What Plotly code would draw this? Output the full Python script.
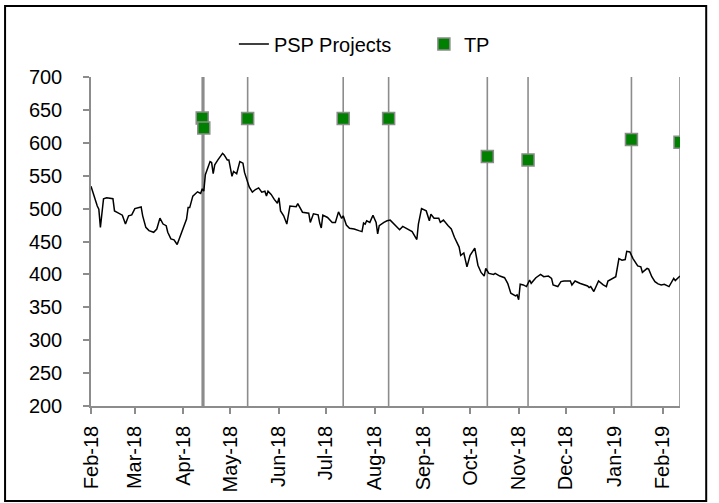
import pandas as pd
import plotly.graph_objects as go

START = pd.Timestamp("2018-02-01")

# PSP Projects: day offset from 1 Feb 2018 and closing price
psp_days = [0, 2, 4, 5, 6, 8, 10, 14, 15, 17, 20, 22, 24, 26, 28, 32, 33, 35, 37, 40,
            42, 44, 46, 48, 49, 51, 53, 55, 57, 59, 61, 62, 63, 65, 66, 68, 70, 71, 72, 73,
            76, 77, 78, 79, 81, 84, 85, 87, 88, 90, 91, 93, 95, 97, 98, 100, 101, 103, 105, 107,
            109, 111, 112, 113, 115, 117, 119, 120, 121, 123, 125, 127, 129, 131, 132, 134, 135, 139, 140, 142,
            145, 146, 147, 148, 151, 154, 156, 158, 160, 161, 163, 165, 168, 171, 173, 174, 175, 176, 178, 180,
            182, 183, 184, 187, 189, 191, 193, 195, 197,
            199, 201, 205, 208, 209, 211, 214, 216, 217, 219, 222, 223, 225, 228, 230, 232, 235, 236, 238, 240,
            242, 245, 247, 249, 251, 252, 254, 257, 258, 261, 264, 266, 268, 271, 272, 273, 274, 276, 278, 280,
            281, 284, 287, 289, 292, 294, 295, 298, 300, 302, 306, 307, 309, 312, 315, 317, 318, 319, 321, 324,
            327, 329, 330, 333, 335, 337, 339, 341, 342, 344, 346, 349, 351, 352, 355, 356, 358, 360, 362, 364,
            366, 369, 372, 373, 375, 376]
psp_values = [534, 518, 504, 499, 471.5, 515, 516.5, 515, 496.5, 494, 490, 476.5, 489, 490.5, 500, 502.5, 489, 471.5, 466.5, 464,
              469, 485.5, 476.5, 474, 464, 454, 452.5, 445.5, 459, 471.5, 484, 501.5, 501.5, 519, 521.5, 525.5, 523, 530, 526.5, 551.5,
              571.5, 570, 553, 566.5, 574, 584, 581.5, 574, 574, 549, 556.5, 553, 571.5, 569, 555, 539, 533, 525, 529, 531.5,
              525, 526.5, 519, 526.5, 521.5, 514, 508, 516.5, 496.5, 489, 476.5, 504, 503, 503, 507.5, 497, 494.5, 493, 479, 492,
              490.5, 478, 470.5, 490, 486.5, 479, 479, 495, 485, 489, 475, 470, 469, 466.5, 465, 478, 476.5, 481.5, 479, 490,
              479, 461.5, 474, 479, 481.5, 482.5, 478, 472.5, 468,
              473, 470, 465, 453, 476.5, 500, 496.5, 481.5, 491.5, 485.5, 485.5, 479, 482.5, 474, 469, 456.5, 441.5, 429, 432.5, 411.5,
              429, 440, 414, 403, 397.5, 409, 401.5, 400, 401.5, 397.5, 395, 386.5, 371.5, 367.5, 369, 361.5, 385, 384, 381.5, 391.5,
              386.5, 395, 400, 396.5, 397.5, 394, 384, 381.5, 389, 390, 390, 384, 390, 386.5, 384, 382.5, 380, 381.5, 374, 390,
              384, 381.5, 390, 394, 396.5, 424, 421.5, 422.5, 435, 434, 424, 413, 411.5, 403, 409, 408, 396.5, 389, 385.5, 384,
              385, 381.5, 394, 390.5, 395, 397.5]

# TP (target price) events
tp_dates = ["2018-04-13", "2018-04-14", "2018-05-12", "2018-07-12", "2018-08-10",
            "2018-10-12", "2018-11-07", "2019-01-12", "2019-02-12"]
tp_values = [637.7, 622.5, 637, 637, 637, 579, 574, 605, 601]

y_ticks = [200, 250, 300, 350, 400, 450, 500, 550, 600, 650, 700]

psp_dates = [START + pd.Timedelta(days=d) for d in psp_days]

FONT = "Liberation Sans"
GRAY = "#8c8c8c"

fig = go.Figure()
fig.add_trace(go.Scatter(x=psp_dates, y=psp_values, mode="lines", name="PSP Projects",
                         line=dict(color="black", width=1.5)))
fig.add_trace(go.Scatter(x=tp_dates, y=tp_values, mode="markers", name="TP",
                         marker=dict(symbol="square", size=12, color="#008000",
                                     line=dict(color=GRAY, width=1.5))))

shapes = []
for d in tp_dates:
    shapes.append(dict(type="line", xref="x", yref="y", x0=d, x1=d, y0=200, y1=700,
                       line=dict(color=GRAY, width=1.6), layer="below"))
# outer chart border (paper coords relative to plot area 91..680.4 x, 406..77 y)
shapes.append(dict(type="rect", xref="paper", yref="paper",
                   x0=-0.1459, x1=1.0445, y0=-0.2887, y1=1.2158,
                   line=dict(color="black", width=2)))

fig.update_layout(
    width=719, height=503,
    margin=dict(l=91, r=38.6, t=77, b=97),
    paper_bgcolor="white", plot_bgcolor="white",
    font=dict(family=FONT, size=20, color="black"),
    showlegend=True,
    legend=dict(orientation="h", x=0.2426, y=1.1003, xanchor="left", yanchor="middle",
                entrywidth=145, font=dict(family=FONT, size=20), bgcolor="rgba(0,0,0,0)"),
    shapes=shapes,
    xaxis=dict(type="date", range=["2018-02-01", "2019-02-12"],
               tickmode="linear", tick0="2018-02-01", dtick="M1", tickformat="%b-%y",
               tickangle=-90, ticks="outside", ticklen=6, tickcolor=GRAY, tickwidth=1.5,
               showline=True, linecolor=GRAY, linewidth=1.5, showgrid=False, zeroline=False,
               ticklabelstandoff=4, tickfont=dict(family=FONT, size=20)),
    yaxis=dict(range=[200, 700], tickvals=y_ticks, ticks="outside", ticklen=6,
               tickcolor=GRAY, tickwidth=1.5, showline=True, linecolor=GRAY, linewidth=1.5,
               showgrid=False, zeroline=False, ticklabelstandoff=17,
               tickfont=dict(family=FONT, size=20)),
)

fig.write_html("out.html", config={"displayModeBar": False},
               post_script="document.body.style.margin='0';document.body.style.overflow='hidden';")
